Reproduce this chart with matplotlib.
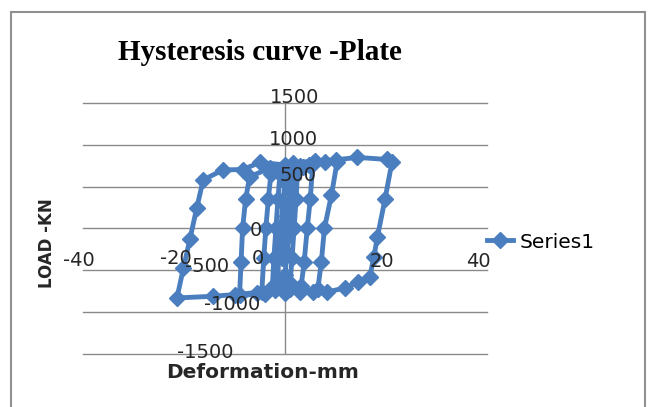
import matplotlib.pyplot as plt
from matplotlib.patches import Rectangle

# Hysteresis data (deformation in mm, load in kN)
deformation = [
    0, 0.3, 0.6, 0.3, 0, -0.3, -0.6, -0.3, 0,
    0.5, 1.0, 1.5, 1.2, 0.8, 0.4, 0, -0.8, -1.5, -1.2, -0.8, -0.4, 0, 1.0, 2.0,
    2.5, 2.2, 1.8, 1.4, 1.0, -1.0, -2.5, -2.2, -1.8, -1.4, -1.0, 1.0, 3.0,
    3.5, 4.8, 5.5, 5.0, 4.4, 3.8, 3.2, 1.0, -2.0, -4.6, -4.2, -3.8, -3.3, -2.8, 0, 3.0, 5.5,
    8.0, 10.3, 9.2, 7.8, 7.2, 6.5, 3.0, 0, -4.0, -9.0, -8.7, -8.4, -7.8, -7.0, -3.0, 1.6, 6.0,
    10.0, 14.3, 20.2, 21.2, 19.8, 18.3, 17.6, 16.8, 14.5, 11.9, 8.3, 5.5, -0.4, -5.5, -10.0,
    -14.3, -21.4, -20.1, -18.8, -17.5, -16.2, -12.3, -8.3, -5.0, 0,
]
load = [
    0, 150, 300, 100, -100, -250, -350, -150, 50,
    250, 450, 600, 300, 0, -300, -550, -620, -650, -300, 0, 300, 560, 650, 700,
    720, 350, 0, -350, -650, -680, -700, -350, 0, 350, 650, 700, 730,
    730, 760, 770, 350, 0, -400, -690, -720, -740, -760, -350, 0, 350, 650, 720, 750, 780,
    800, 790, 400, 0, -400, -720, -760, -770, -780, -800, -400, 0, 350, 620, 720, 780, 810,
    820, 850, 825, 800, 350, -100, -340, -575, -640, -710, -760, -760, -705, -765, -790,
    -810, -830, -470, -120, 240, 580, 700, 705, 790, 760,
]

xtick_vals = [-40, -20, 0, 20, 40]
xtick_offsets = [(-4, -32), (-8, -30), (-27, -30), (-4, -33), (-9, -33)]
ytick_vals = [1500, 1000, 500, 0, -500, -1000, -1500]
ytick_offsets = [(10, 5), (8, 5), (13, 11), (-29, -2), (-78, 4), (-53, 8), (-80, 2)]

blue = '#4a7ebf'
grey = '#8a8a8a'

fig = plt.figure(figsize=(6.49, 4.07), dpi=100)
ax = fig.add_axes([83 / 649, 53 / 407, 404 / 649, 251 / 407])

ax.plot(deformation, load, color=blue, linewidth=3.5, marker='D', markersize=8,
        label='Series1', zorder=3)

ax.set_xlim(-40, 40)
ax.set_ylim(-1500, 1500)
ax.set_yticks(ytick_vals)
ax.set_xticks([])
ax.set_yticklabels([])
ax.tick_params(length=0)
ax.yaxis.grid(True, color=grey, linewidth=1)
for gl in ax.get_ygridlines():
    gl.set_clip_on(False)
ax.set_axisbelow(True)
for s in ax.spines.values():
    s.set_visible(False)
ax.axvline(0, color=grey, linewidth=1, zorder=1)

# tick labels as placed in the original (Excel) picture
for v, off in zip(xtick_vals, xtick_offsets):
    ax.annotate(str(v), xy=(v, 0), xytext=off, textcoords='offset pixels',
                ha='center', va='center', fontsize=14, color='#262626')
for v, off in zip(ytick_vals, ytick_offsets):
    ax.annotate(str(v), xy=(0, v), xytext=off, textcoords='offset pixels',
                ha='center', va='center', fontsize=14, color='#262626')

fig.text(260 / 649, 1 - 53 / 407, 'Hysteresis curve -Plate', ha='center', va='center',
         fontsize=21, fontweight='bold', family='Liberation Serif')
fig.text(263 / 649, 1 - 373 / 407, 'Deformation-mm', ha='center', va='center',
         fontsize=14.5, fontweight='bold', color='#262626')
fig.text(47 / 649, 1 - 243 / 407, 'LOAD -KN', ha='center', va='center', rotation=90,
         fontsize=12, fontweight='bold', color='#262626')

fig.legend(loc='center left', bbox_to_anchor=(487 / 649, 1 - 242 / 407), frameon=False,
           fontsize=14.5, handlelength=1.3, handletextpad=0.3, borderpad=0,
           borderaxespad=0)

fig.patches.append(Rectangle((11 / 649, -0.05), 634 / 649, 1.05 - 12 / 407,
                             transform=fig.transFigure, fill=False,
                             edgecolor='#909090', linewidth=1.5))

fig.savefig('out.png', dpi=100)
